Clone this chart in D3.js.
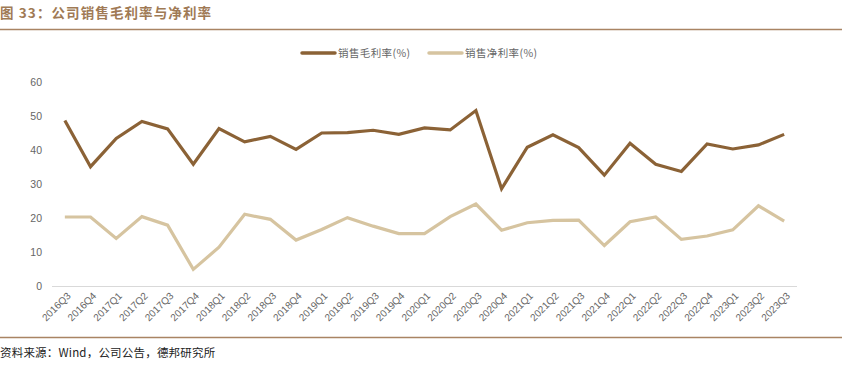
<!DOCTYPE html>
<html><head><meta charset="utf-8">
<script src="https://cdn.jsdelivr.net/npm/d3@7"></script>
<style>body{margin:0;background:#fff;}svg{display:block;}</style>
</head><body>
<svg id="c" width="849" height="371"></svg>
<script>
const categories = ["2016Q3","2016Q4","2017Q1","2017Q2","2017Q3","2017Q4","2018Q1","2018Q2","2018Q3","2018Q4","2019Q1","2019Q2","2019Q3","2019Q4","2020Q1","2020Q2","2020Q3","2020Q4","2021Q1","2021Q2","2021Q3","2021Q4","2022Q1","2022Q2","2022Q3","2022Q4","2023Q1","2023Q2","2023Q3"];
const grossMargin = [48.7,35.1,43.4,48.4,46.2,35.8,46.3,42.4,44.0,40.2,45.0,45.1,45.8,44.6,46.5,45.9,51.6,28.6,40.8,44.5,40.7,32.6,42.0,35.8,33.7,41.8,40.3,41.5,44.6];
const netMargin = [20.3,20.3,14.0,20.4,17.9,4.9,11.4,21.1,19.6,13.5,16.6,20.1,17.6,15.4,15.4,20.4,24.1,16.4,18.6,19.3,19.4,11.9,18.9,20.3,13.7,14.7,16.5,23.6,19.1];
const yTicks = [0,10,20,30,40,50,60];
const seriesNames = ["销售毛利率(%)","销售净利率(%)"];
const colors = ["#8B6236","#D6C4A0"];

const svg = d3.select("#c");
const font = "'Noto Sans CJK SC', 'Liberation Sans', sans-serif";

// title
svg.append("text").attr("x",0).attr("y",18).attr("font-family",font).attr("font-weight","bold")
  .attr("font-size",13.5).attr("letter-spacing",1.1).attr("fill","#A07A55").text("图 33：公司销售毛利率与净利率");
svg.append("line").attr("x1",0).attr("x2",842).attr("y1",29.5).attr("y2",29.5).attr("stroke","#A98463").attr("stroke-width",1.5);

// scales
const x = d3.scaleBand().domain(categories).range([52,797]);
const y = d3.scaleLinear().domain([0,60]).range([286,82]);

// y axis labels
svg.append("g").selectAll("text").data(yTicks).join("text")
  .attr("x",42).attr("y",d=>y(d)+4).attr("text-anchor","end")
  .attr("font-family","'Liberation Sans', Arial, sans-serif").attr("font-size",10.5).attr("fill","#666")
  .text(d=>d);

// x axis line
svg.append("line").attr("x1",52).attr("x2",797).attr("y1",286.5).attr("y2",286.5).attr("stroke","#D9D9D9").attr("stroke-width",1);

// x labels
svg.append("g").selectAll("text").data(categories).join("text")
  .attr("transform",d=>`translate(${x(d)+x.bandwidth()/2+4},${294}) rotate(-45)`)
  .attr("text-anchor","end").attr("dy","0.35em")
  .attr("font-family","'Liberation Sans', Arial, sans-serif").attr("font-size",10).attr("fill","#666")
  .text(d=>d);

// lines
const line = d3.line().x((d,i)=>x(categories[i])+x.bandwidth()/2).y(d=>y(d));
[grossMargin,netMargin].forEach((s,k)=>{
  svg.append("path").datum(s).attr("d",line).attr("fill","none")
    .attr("stroke",colors[k]).attr("stroke-width",3.2).attr("stroke-linejoin","miter");
});

// legend
const lg = [{x:302,tx:338},{x:429,tx:465}];
lg.forEach((p,k)=>{
  svg.append("line").attr("x1",p.x).attr("x2",p.x+33).attr("y1",53).attr("y2",53)
    .attr("stroke",colors[k]).attr("stroke-width",3.5).attr("stroke-linecap","round");
  svg.append("text").attr("x",p.tx).attr("y",57).attr("font-family",font).attr("font-size",10.5)
    .attr("letter-spacing",0.4).attr("fill","#666").text(seriesNames[k]);
});

// footer
svg.append("line").attr("x1",0).attr("x2",842).attr("y1",337.5).attr("y2",337.5).attr("stroke","#A98463").attr("stroke-width",1.5);
svg.append("text").attr("x",0).attr("y",357).attr("font-family",font).attr("font-size",11.5)
  .attr("letter-spacing",0.2).attr("fill","#222").text("资料来源：Wind，公司公告，德邦研究所");
</script>
</body></html>
